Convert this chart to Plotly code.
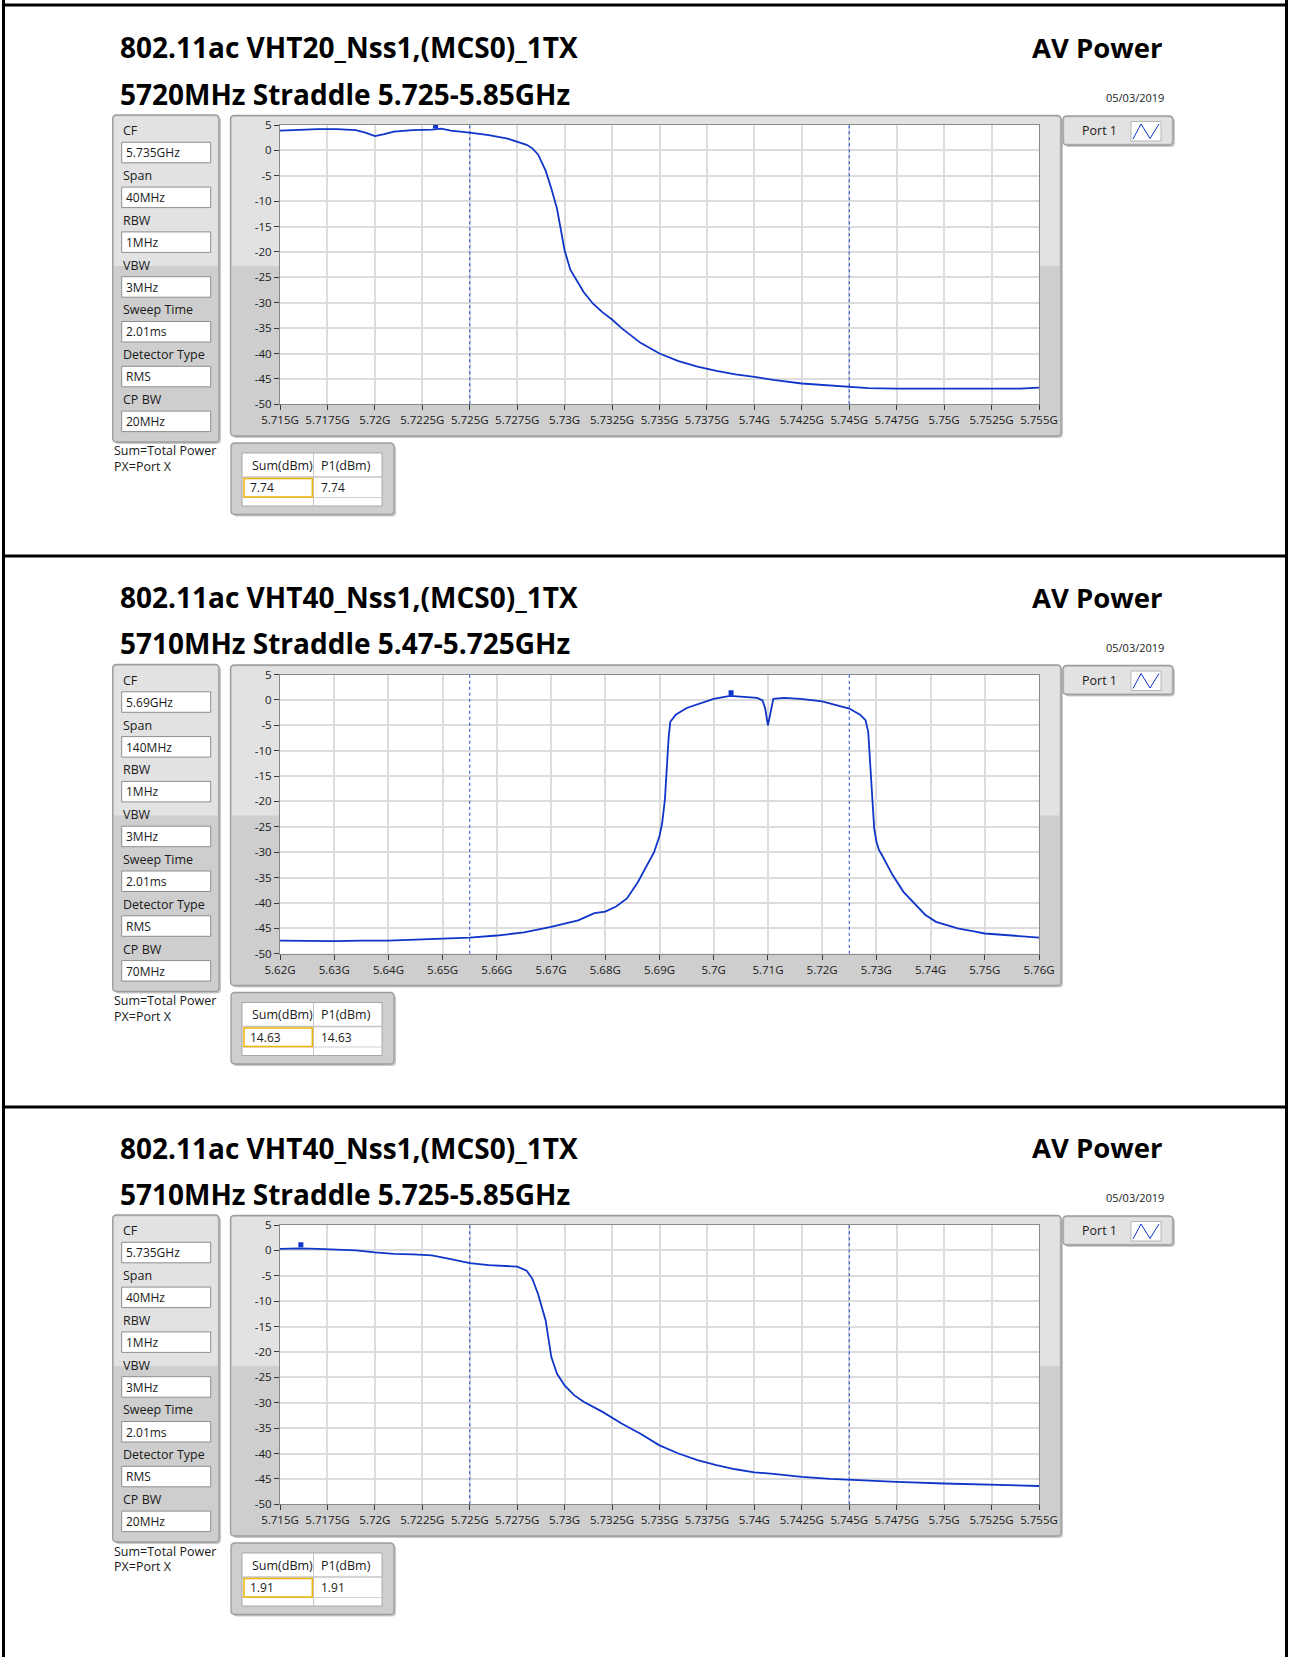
import plotly.graph_objects as go

W, H = 1290, 1657

# ---------------- sweep data (frequency in GHz, level in dBm) ----------------
# VHT20, 5720 MHz, straddle 5.725-5.85 GHz (CF 5.735 GHz, span 40 MHz)
freq_vht20 = [5.715, 5.716, 5.717, 5.718, 5.719, 5.7195, 5.720, 5.7205, 5.721, 5.722,
              5.723, 5.7235, 5.724, 5.725, 5.726, 5.727, 5.7275, 5.728, 5.7283, 5.7286,
              5.729, 5.7293, 5.7296, 5.730, 5.7303, 5.7306, 5.731, 5.7315, 5.732, 5.7325,
              5.733, 5.734, 5.735, 5.736, 5.737, 5.738, 5.739, 5.740, 5.741, 5.7425,
              5.744, 5.745, 5.746, 5.7475, 5.749, 5.750, 5.751, 5.7525, 5.754, 5.755]
level_vht20 = [3.9, 4.1, 4.2, 4.2, 4.0, 3.5, 2.8, 3.2, 3.7, 4.0,
               4.1, 4.3, 3.9, 3.5, 3.0, 2.3, 1.7, 1.1, 0.4, -0.8,
               -4.0, -7.5, -11.5, -19.7, -23.5, -25.5, -27.9, -30.2, -31.9, -33.3,
               -35.0, -37.9, -40.0, -41.5, -42.6, -43.4, -44.1, -44.6, -45.2, -45.9,
               -46.3, -46.6, -46.8, -46.9, -46.9, -46.9, -47.0, -47.0, -46.9, -46.7]

# VHT40, 5710 MHz, straddle 5.47-5.725 GHz (CF 5.69 GHz, span 140 MHz)
freq_vht40_low = [5.620, 5.625, 5.630, 5.635, 5.640, 5.645, 5.650, 5.655, 5.660, 5.665,
                  5.670, 5.675, 5.678, 5.680, 5.682, 5.684, 5.686, 5.688, 5.689, 5.690,
                  5.6905, 5.691, 5.6913, 5.6917, 5.692, 5.693, 5.695, 5.698, 5.700, 5.703,
                  5.706, 5.708, 5.709, 5.7095, 5.710, 5.7105, 5.711, 5.713, 5.716, 5.720,
                  5.723, 5.725, 5.727, 5.728, 5.7285, 5.729, 5.7293, 5.7296, 5.730, 5.7305,
                  5.731, 5.732, 5.733, 5.735, 5.737, 5.739, 5.741, 5.743, 5.745, 5.748,
                  5.750, 5.755, 5.760]
level_vht40_low = [-47.4, -47.5, -47.5, -47.4, -47.4, -47.2, -47.0, -46.8, -46.4, -45.8,
                   -44.7, -43.4, -42.0, -41.7, -40.7, -39.1, -35.9, -32.0, -30.0, -26.8,
                   -24.2, -19.6, -13.0, -7.2, -4.3, -2.9, -1.6, -0.5, 0.2, 0.8,
                   0.5, 0.4, -0.1, -1.7, -5.0, -2.0, 0.2, 0.4, 0.2, -0.3,
                   -1.2, -1.7, -2.9, -4.0, -6.3, -14.1, -20.7, -25.3, -27.9, -29.6,
                   -30.5, -32.5, -34.5, -37.8, -40.0, -42.3, -43.7, -44.4, -45.0, -45.6,
                   -46.0, -46.4, -46.8]

# VHT40, 5710 MHz, straddle 5.725-5.85 GHz (CF 5.735 GHz, span 40 MHz)
freq_vht40_up = [5.715, 5.716, 5.717, 5.718, 5.719, 5.720, 5.721, 5.722, 5.723, 5.724,
                 5.725, 5.726, 5.727, 5.7275, 5.728, 5.7283, 5.7286, 5.729, 5.7293, 5.7296,
                 5.730, 5.7305, 5.731, 5.732, 5.733, 5.734, 5.735, 5.736, 5.737, 5.738,
                 5.739, 5.740, 5.741, 5.7425, 5.744, 5.745, 5.7475, 5.750, 5.7525, 5.755]
level_vht40_up = [0.3, 0.4, 0.3, 0.2, 0.0, -0.4, -0.7, -0.8, -1.0, -1.7,
                  -2.5, -2.9, -3.1, -3.2, -4.0, -5.6, -8.6, -13.8, -21.0, -24.3,
                  -26.6, -28.5, -29.8, -31.8, -34.1, -36.1, -38.4, -40.0, -41.3, -42.3,
                  -43.1, -43.7, -44.0, -44.6, -45.0, -45.2, -45.6, -45.9, -46.2, -46.4]

# peak markers
peak_freq = [5.7232, 5.7032, 5.7161]
peak_level = [4.8, 1.4, 1.1]

# band-edge markers (GHz)
edges_vht20 = [5.725, 5.745]
edges_vht40_low = [5.655, 5.725]
edges_vht40_up = [5.725, 5.745]

# axis ticks
ticks_40m = [5.715, 5.7175, 5.72, 5.7225, 5.725, 5.7275, 5.73, 5.7325, 5.735,
             5.7375, 5.74, 5.7425, 5.745, 5.7475, 5.75, 5.7525, 5.755]
labels_40m = ["5.715G", "5.7175G", "5.72G", "5.7225G", "5.725G", "5.7275G", "5.73G",
              "5.7325G", "5.735G", "5.7375G", "5.74G", "5.7425G", "5.745G", "5.7475G",
              "5.75G", "5.7525G", "5.755G"]
ticks_140m = [5.62, 5.63, 5.64, 5.65, 5.66, 5.67, 5.68, 5.69, 5.70, 5.71, 5.72,
              5.73, 5.74, 5.75, 5.76]
labels_140m = ["5.62G", "5.63G", "5.64G", "5.65G", "5.66G", "5.67G", "5.68G", "5.69G",
               "5.7G", "5.71G", "5.72G", "5.73G", "5.74G", "5.75G", "5.76G"]
ticks_db = [5, 0, -5, -10, -15, -20, -25, -30, -35, -40, -45, -50]
labels_db = ["5", "0", "-5", "-10", "-15", "-20", "-25", "-30", "-35", "-40", "-45", "-50"]

# header and settings text
titles = ["802.11ac VHT20_Nss1,(MCS0)_1TX", "802.11ac VHT40_Nss1,(MCS0)_1TX",
          "802.11ac VHT40_Nss1,(MCS0)_1TX"]
subtitles = ["5720MHz Straddle 5.725-5.85GHz", "5710MHz Straddle 5.47-5.725GHz",
             "5710MHz Straddle 5.725-5.85GHz"]
setting_names = ["CF", "Span", "RBW", "VBW", "Sweep Time", "Detector Type", "CP BW"]
settings = [["5.735GHz", "40MHz", "1MHz", "3MHz", "2.01ms", "RMS", "20MHz"],
            ["5.69GHz", "140MHz", "1MHz", "3MHz", "2.01ms", "RMS", "70MHz"],
            ["5.735GHz", "40MHz", "1MHz", "3MHz", "2.01ms", "RMS", "20MHz"]]
sum_power = ["7.74", "14.63", "1.91"]
p1_power = ["7.74", "14.63", "1.91"]
date_text = "05/03/2019"

panels = [
    dict(freq=freq_vht20, level=level_vht20, edges=edges_vht20,
         ticks=ticks_40m, labels=labels_40m, rng=[5.715, 5.755]),
    dict(freq=freq_vht40_low, level=level_vht40_low, edges=edges_vht40_low,
         ticks=ticks_140m, labels=labels_140m, rng=[5.62, 5.76]),
    dict(freq=freq_vht40_up, level=level_vht40_up, edges=edges_vht40_up,
         ticks=ticks_40m, labels=labels_40m, rng=[5.715, 5.755]),
]
offsets = [0, 549.5, 1100]

TRACE = "#0f35c9"
FONT = "Open Sans"
LIGHT = "#e2e2e2"
DARK = "#cecece"
EDGE = "#9c9c9c"


def X(px):
    return px / W


def Y(py):
    return 1 - py / H


shapes = []
annotations = []


def rect(x0, y0, x1, y1, fill, line=None, lw=1.0, layer="below"):
    shapes.append(dict(type="rect", xref="paper", yref="paper",
                       x0=X(x0), x1=X(x1), y0=Y(y1), y1=Y(y0),
                       fillcolor=fill,
                       line=dict(color=line if line else "rgba(0,0,0,0)",
                                 width=lw if line else 0),
                       layer=layer))


def rr_path(x0, y0, x1, y1, r):
    rx, ry = r / W, r / H
    a, b, c, d = X(x0), Y(y0), X(x1), Y(y1)
    return (f"M {a+rx},{b} L {c-rx},{b} Q {c},{b} {c},{b-ry} L {c},{d+ry} "
            f"Q {c},{d} {c-rx},{d} L {a+rx},{d} Q {a},{d} {a},{d+ry} "
            f"L {a},{b-ry} Q {a},{b} {a+rx},{b} Z")


def rrect(x0, y0, x1, y1, r, fill=None, line=None, lw=1.0):
    shapes.append(dict(type="path", xref="paper", yref="paper",
                       path=rr_path(x0, y0, x1, y1, r),
                       fillcolor=fill if fill else "rgba(0,0,0,0)",
                       line=dict(color=line if line else "rgba(0,0,0,0)",
                                 width=lw if line else 0),
                       layer="below"))


def hline(x0, x1, y, color, width=1.0):
    shapes.append(dict(type="line", xref="paper", yref="paper",
                       x0=X(x0), x1=X(x1), y0=Y(y), y1=Y(y),
                       line=dict(color=color, width=width), layer="below"))


def vline(x, y0, y1, color, width=1.0):
    shapes.append(dict(type="line", xref="paper", yref="paper",
                       x0=X(x), x1=X(x), y0=Y(y0), y1=Y(y1),
                       line=dict(color=color, width=width), layer="below"))


def frame(x0, y0, x1, y1, split, r=4):
    """Two-tone raised panel with rounded corners and a soft shadow."""
    rrect(x0 + 2, y0 + 2, x1 + 2, y1 + 2, r, fill="#c8c8c8")
    rrect(x0, y0, x1, y1, r, fill=DARK)
    if split > y0:
        rect(x0 + 1.5, y0 + 1.5, x1 - 1.5, min(split, y1 - 1.5), LIGHT)
    rrect(x0, y0, x1, y1, r, line=EDGE, lw=1.3)


def text(x, y, s, size=12.5, bold=False, anchor="left", color="#1a1a1a"):
    annotations.append(dict(xref="paper", yref="paper", x=X(x), y=Y(y),
                            text=s, showarrow=False, xanchor=anchor, yanchor="middle",
                            font=dict(family=FONT, size=size, color=color,
                                      weight="bold" if bold else "normal")))


# outer black frame and panel separators
vline(3.5, 0, H, "#000000", 3)
vline(1286.5, 0, H, "#000000", 3)
hline(2, 1288, 5, "#000000", 3)
hline(2, 1288, 556, "#000000", 3)
hline(2, 1288, 1107, "#000000", 3)

fig = go.Figure()

for k, (p, off) in enumerate(zip(panels, offsets)):
    n = "" if k == 0 else str(k + 1)
    split = 266 + off

    # headings
    text(118, 47.5 + off, titles[k], size=28, bold=True, color="#000000")
    text(1165, 47.5 + off, "AV Power", size=27.5, bold=True, anchor="right", color="#000000")
    text(118, 93.5 + off, subtitles[k], size=28, bold=True, color="#000000")
    text(1166, 97.5 + off, date_text, size=11, anchor="right")

    # settings column
    frame(112.7, 115 + off, 219, 442 + off, split)
    for i, (name, val) in enumerate(zip(setting_names, settings[k])):
        ly = 130.7 + i * 44.8 + off
        by = 142.3 + i * 44.8 + off
        text(120.5, ly, name)
        rect(121.7, by, 210.7, by + 20.5, "#ffffff", line="#8e8e8e", lw=1)
        text(124, by + 10.5, val, size=12)
    text(112, 451 + off, "Sum=Total Power")
    text(112, 466.5 + off, "PX=Port X")

    # graph frame with white plotting area
    frame(230.5, 115.5 + off, 1061, 436 + off, split)
    rect(280, 125 + off, 1039, 404.3 + off, "#ffffff")

    # port legend
    frame(1063, 116 + off, 1173, 145 + off, split)
    text(1080, 130.5 + off, "Port 1")
    rect(1131, 121.5 + off, 1161, 141 + off, "#ffffff", line="#b5b5b5", lw=1)
    shapes.append(dict(type="path", xref="paper", yref="paper",
                       path=(f"M {X(1133)},{Y(139 + off)} L {X(1141)},{Y(124 + off)} "
                             f"L {X(1150)},{Y(138.5 + off)} L {X(1159)},{Y(124 + off)}"),
                       line=dict(color=TRACE, width=1), layer="below"))

    # channel power table
    frame(231, 443 + off, 394, 514.5 + off, split)
    rect(242, 453 + off, 382, 506 + off, "#ffffff", line="#a8a8a8", lw=1)
    hline(242, 382, 477 + off, "#c4c4c4", 1.5)
    hline(242, 382, 497.5 + off, "#d0d0d0", 1)
    vline(313.5, 453 + off, 506 + off, "#c4c4c4", 1)
    rect(244, 478.5 + off, 312.3, 497 + off, "rgba(0,0,0,0)", line="#f0b400", lw=1.5)
    text(250, 465 + off, "Sum(dBm)")
    text(319, 465 + off, "P1(dBm)")
    text(248, 487.5 + off, sum_power[k], size=12)
    text(319, 487.5 + off, p1_power[k], size=12)

    # band-edge markers
    for e in p["edges"]:
        fig.add_trace(go.Scatter(x=[e, e], y=[ticks_db[-1], ticks_db[0]], mode="lines",
                                 line=dict(color="#2048d8", width=1, dash="3px,3px"),
                                 xaxis="x" + n, yaxis="y" + n, showlegend=False,
                                 hoverinfo="skip"))
    # spectrum trace
    fig.add_trace(go.Scatter(x=p["freq"], y=p["level"], mode="lines",
                             line=dict(color=TRACE, width=1.8),
                             xaxis="x" + n, yaxis="y" + n, showlegend=False))
    fig.add_trace(go.Scatter(x=[peak_freq[k]], y=[peak_level[k]], mode="markers",
                             marker=dict(symbol="square", size=5, color=TRACE),
                             xaxis="x" + n, yaxis="y" + n, showlegend=False))

    axis_common = dict(showgrid=True, gridcolor="#dcdcdc", gridwidth=1.5,
                       showline=True, linecolor="#8a8a8a", linewidth=1, mirror=True,
                       ticks="outside", ticklen=5, tickcolor="#3a3a3a", tickwidth=1,
                       tickfont=dict(family=FONT, size=11.5, color="#1a1a1a"),
                       zeroline=False, fixedrange=True, tickangle=0, automargin=False)
    fig.update_layout({
        "xaxis" + n: dict(axis_common, domain=[X(280), X(1039)], range=p["rng"],
                          tickmode="array", tickvals=p["ticks"], ticktext=p["labels"],
                          anchor="y" + n),
        "yaxis" + n: dict(axis_common, domain=[Y(404.3 + off), Y(125 + off)],
                          range=[ticks_db[-1], ticks_db[0]], tickmode="array",
                          tickvals=ticks_db, ticktext=labels_db, anchor="x" + n),
    })

fig.update_layout(width=W, height=H, autosize=False,
                  margin=dict(l=0, r=0, t=0, b=0, pad=0, autoexpand=False),
                  paper_bgcolor="#ffffff", plot_bgcolor="rgba(0,0,0,0)",
                  shapes=shapes, annotations=annotations, showlegend=False)

fig.write_html("out.html")
